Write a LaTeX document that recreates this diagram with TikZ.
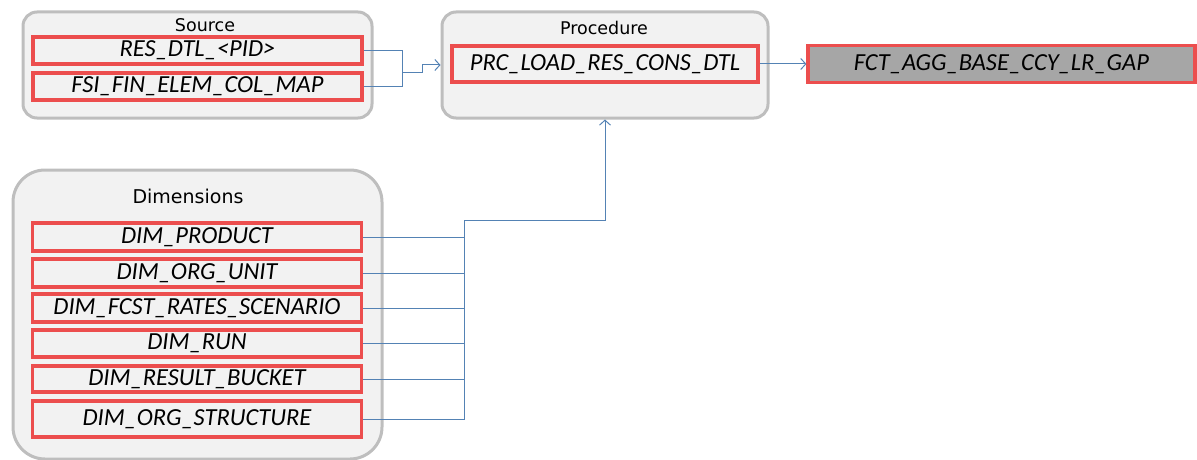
\documentclass[tikz,border=0pt]{standalone}
\usepackage{fontspec}
\usepackage{tikz}
\usetikzlibrary{arrows.meta}
\newfontfamily\tblfont{Carlito}
\newfontfamily\ttlfont{DejaVu Sans}
\definecolor{GrpFill}{RGB}{242,242,242}
\definecolor{GrpLine}{RGB}{190,190,190}
\definecolor{TblRed}{RGB}{236,78,78}
\definecolor{LinkBlue}{RGB}{84,130,180}
\definecolor{FctGray}{RGB}{166,166,166}

\begin{document}
\begin{tikzpicture}[x=1pt,y=-1pt,>={Straight Barb[length=5pt,width=11pt]},
	grp/.style={draw=GrpLine,fill=GrpFill,line width=3pt,rounded corners=14pt,inner sep=0pt},
	ttl/.style={font=\ttlfont\fontsize{17.5}{19}\selectfont,inner sep=0pt},
	tbl/.style={draw=TblRed,fill=GrpFill,line width=3.2pt,minimum width=329pt,minimum height=27pt,inner sep=0pt,font=\tblfont\itshape\fontsize{24.5}{26}\selectfont},
	link/.style={LinkBlue,line width=1pt}]
		\useasboundingbox (0,0) rectangle (1197,460);
		
		% Source
		\node[grp,minimum width=349pt,minimum height=106pt] (srcgrp) at (197.5,65) {};
		\node[ttl] (srcttl) at (205,25) {Source};
		\node[tbl] (res) at (197.5,50.5) {RES\_DTL\_<PID>};
		\node[tbl] (fsi) at (197.5,86.5) {FSI\_FIN\_ELEM\_COL\_MAP};
		
		% Procedure
		\node[grp,minimum width=326pt,minimum height=106pt] (procgrp) at (605,65) {};
		\node[ttl] (procttl) at (604,28) {Procedure};
		\node[tbl,minimum width=306pt,minimum height=36pt] (prc) at (605,64) {PRC\_LOAD\_RES\_CONS\_DTL};
		
		% target table
		\node[tbl,fill=FctGray,minimum width=387pt,minimum height=37pt] (fct) at (1001.5,64) {FCT\_AGG\_BASE\_CCY\_LR\_GAP};
		
		% Dimensions
		\node[grp,rounded corners=32pt,minimum width=369pt,minimum height=289pt] (dimgrp) at (197.5,314.5) {};
		\node[ttl,font=\ttlfont\fontsize{19}{21}\selectfont] (dimttl) at (188,196) {Dimensions};
		\node[tbl,minimum height=28pt] (dprod) at (197,237) {DIM\_PRODUCT};
		\node[tbl,minimum height=28pt] (dorg) at (197,273) {DIM\_ORG\_UNIT};
		\node[tbl,minimum height=28pt] (dfcst) at (197,308) {DIM\_FCST\_RATES\_SCENARIO};
		\node[tbl] (drun) at (197,343.5) {DIM\_RUN};
		\node[tbl,minimum height=26pt] (dbkt) at (197,379) {DIM\_RESULT\_BUCKET};
		\node[tbl,minimum height=36pt] (dstr) at (197,419) {DIM\_ORG\_STRUCTURE};
		
		% source links
		\coordinate (sj) at (402,73);
		\coordinate (sk) at (422,73);
		\draw[link] (res.east) -| (sj);
		\draw[link] (fsi.east) -| (sj);
		\draw[link,->] (sj) -- (sk) |- (procgrp.west);
		
		% procedure -> target
		\draw[link,->] (prc.east) -- (fct.west);
		
		% dimension links
		\coordinate (db) at (464,220);
		\foreach \d in {dprod,dorg,dfcst,drun,dbkt,dstr}
			\draw[link] (\d.east) -| (db);
		\draw[link,->] (db) -| (procgrp.south);
	\end{tikzpicture}
\end{document}
